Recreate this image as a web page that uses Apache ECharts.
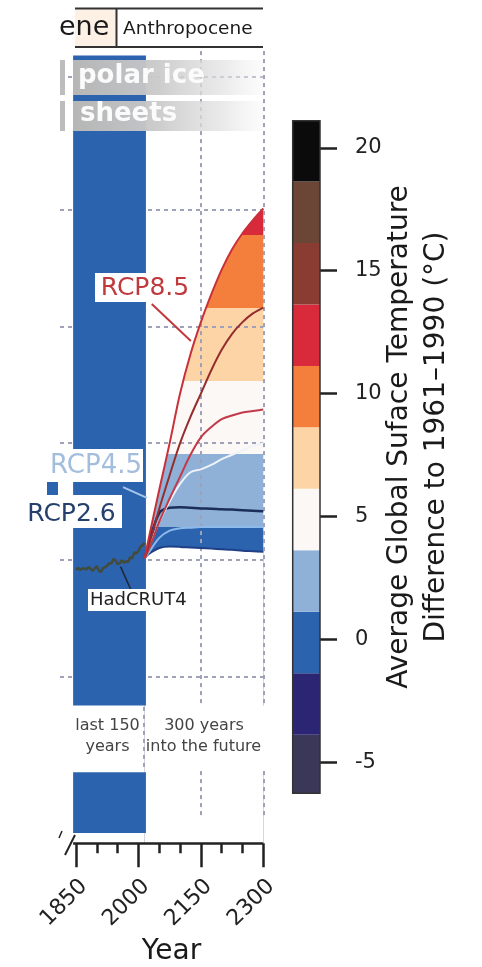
<!DOCTYPE html>
<html>
<head>
<meta charset="utf-8">
<script src="https://cdn.jsdelivr.net/npm/echarts@6/dist/echarts.min.js"></script>
<style>
  html, body { margin: 0; padding: 0; background: #ffffff; }
  #chart { width: 482px; height: 967px; }
</style>
</head>
<body>
<div id="chart"></div>
<script>
// Global mean surface temperature anomaly (°C, relative to 1961–1990)

// HadCRUT4 observations
const obsYears = [1850, 1855, 1860, 1865, 1870, 1875, 1880, 1885, 1890, 1895, 1900, 1905, 1910, 1915, 1920, 1925, 1930, 1935, 1940, 1945, 1950, 1955, 1960, 1965, 1970, 1975, 1980, 1985, 1990, 1995, 2000, 2005, 2010, 2015];
const obsTemp  = [-0.35, -0.28, -0.35, -0.30, -0.30, -0.33, -0.25, -0.32, -0.38, -0.30, -0.22, -0.38, -0.42, -0.28, -0.26, -0.20, -0.12, -0.13, 0.02, -0.02, -0.15, -0.12, -0.02, -0.10, -0.05, -0.08, 0.08, 0.05, 0.25, 0.22, 0.30, 0.45, 0.50, 0.58];

// Scenario projections
const futureYears = [2015, 2025, 2050, 2075, 2100, 2125, 2150, 2175, 2200, 2225, 2250, 2275, 2300];
const rcp85High = [0.05, 0.75, 2.40, 4.00, 5.70, 7.05, 8.15, 9.10, 9.95, 10.65, 11.20, 11.65, 12.05];
const rcp85Mid  = [0.05, 0.50, 1.75, 2.90, 4.00, 4.90, 5.70, 6.50, 7.20, 7.75, 8.15, 8.45, 8.65];
const rcp85Low  = [0.05, 0.35, 1.30, 2.10, 2.85, 3.60, 4.20, 4.55, 4.82, 4.95, 5.05, 5.10, 5.15];
const rcp45High = [0.05, 0.40, 1.30, 2.00, 2.60, 3.00, 3.10, 3.25, 3.45, 3.60, 3.75, 3.90, 4.00];
const rcp45Low  = [0.05, 0.25, 0.75, 1.00, 1.08, 1.10, 1.12, 1.12, 1.12, 1.12, 1.12, 1.12, 1.12];
const rcp26Mid  = [0.05, 0.55, 1.60, 1.78, 1.80, 1.78, 1.76, 1.75, 1.73, 1.72, 1.70, 1.68, 1.66];
const rcp26Low  = [0.05, 0.20, 0.40, 0.45, 0.44, 0.42, 0.40, 0.38, 0.36, 0.34, 0.31, 0.29, 0.27];

// Axis ticks and guides
const majorYears = [1850, 2000, 2150, 2300];
const minorYears = [1900, 1950, 2050, 2100, 2200, 2250];
const gridTemps = [-4, 0, 4, 8, 12];
const gridYears = [2150, 2300];

// Temperature colour scale: bin edges (°C) and the colour of each bin, coolest first
const binEdges = [-6.25, -3.87, -1.37, 1.13, 3.63, 6.13, 8.63, 11.13, 13.63, 16.13, 18.63, 21.1];
const binColours = ['#3b3758', '#2b2573', '#2b63ae', '#8fb1d7', '#fcf8f5', '#fcd4a5', '#f47f3d', '#d82a3b', '#8a3b32', '#6b4637', '#0c0b0b'];
const cbarTicks = [-5, 0, 5, 10, 15, 20];

// The "last 150 years" column, coloured with the present-day bin
const recentColumn = [[1843, 2018, -5.0, 17.3], [1843, 2018, -9.38, -7.29]];

const FONT = '"DejaVu Sans"';
const Y_MIN = -9.73, Y_MAX = 17.58;
const CB_MIN = binEdges[0], CB_MAX = binEdges[binEdges.length - 1];
const pair = (xs, ys) => xs.map((x, i) => [x, ys[i]]);
const SMOOTH = 0.35;

function curve(name, ys, color, width) {
  return {
    name, type: 'line', xAxisIndex: 0, yAxisIndex: 0,
    data: pair(futureYears, ys), smooth: SMOOTH, symbol: 'none', showSymbol: false,
    z: 4, silent: true, animation: false,
    lineStyle: { color, width }
  };
}

const gridStyle = { color: '#9ea1b8', width: 2, type: [4, 4] };

const series = [
  // envelope of all scenarios: filled down from the warmest bound, then cleared below the coolest bound
  {
    id: 'envelope', name: 'envelope', type: 'line', data: pair(futureYears, rcp85High),
    smooth: SMOOTH, symbol: 'none', showSymbol: false, z: 1, silent: true, animation: false,
    lineStyle: { opacity: 0 }, areaStyle: { origin: 'start', opacity: 1, color: binColours[4] }
  },
  {
    id: 'envelope-floor', name: 'envelope floor', type: 'line', data: pair(futureYears, rcp26Low),
    smooth: SMOOTH, symbol: 'none', showSymbol: false, z: 1, silent: true, animation: false,
    lineStyle: { opacity: 0 }, areaStyle: { origin: 'start', opacity: 1, color: '#ffffff' }
  },
  // guides and the recent-period column
  {
    name: 'guides', type: 'line', data: [], clip: false, silent: true, animation: false,
    markLine: {
      silent: true, symbol: ['none', 'none'], z: 2, animation: false,
      label: { show: false }, lineStyle: gridStyle,
      data: gridTemps.map(t => ({ yAxis: t }))
        .concat(gridYears.map(y => [{ coord: [y, 17.45] }, { coord: [y, -8.8] }]))
        .concat([[{ coord: [2012, -5.05] }, { coord: [2012, -7.25] }]])
    },
    markArea: {
      silent: true, z: 3, animation: false,
      itemStyle: { color: binColours[2] },
      data: recentColumn.map(r => [{ coord: [r[0], r[3]] }, { coord: [r[1], r[2]] }])
    }
  },
  curve('RCP2.6 lower', rcp26Low, '#1f3f86', 2),
  curve('RCP4.5 lower', rcp45Low, '#8dbaea', 2),
  curve('RCP2.6', rcp26Mid, '#1b2e5a', 2.5),
  curve('RCP4.5 upper', rcp45High, '#eef3fa', 2),
  curve('RCP8.5 lower', rcp85Low, '#c23a4a', 2),
  curve('RCP8.5', rcp85Mid, '#952c2e', 2),
  curve('RCP8.5 upper', rcp85High, '#c8303a', 2),
  {
    name: 'HadCRUT4', type: 'line', data: pair(obsYears, obsTemp), symbol: 'none', showSymbol: false,
    z: 4, silent: true, animation: false, lineStyle: { color: '#434b3b', width: 2.5 }
  },
  // leader lines and the time axis baseline
  {
    name: 'leaders', type: 'line', data: [], clip: false, silent: true, animation: false,
    markLine: {
      silent: true, symbol: ['none', 'none'], z: 5, animation: false, label: { show: false },
      data: [
        [{ coord: [2032, 8.77], lineStyle: { color: '#c0393d', width: 2, type: 'solid' } }, { coord: [2126, 7.5] }],
        [{ coord: [1963, 2.49], lineStyle: { color: '#a6c5ea', width: 2, type: 'solid' } }, { coord: [2020.5, 2.12] }],
        [{ coord: [1957, -0.24], lineStyle: { color: '#1e2a3a', width: 1.6, type: 'solid' } }, { coord: [1984, -1.1] }],
        [{ coord: [1843, Y_MIN], lineStyle: { color: '#222222', width: 2.5, type: 'solid' } }, { coord: [2300, Y_MIN] }]
      ]
    }
  },
  // colour bar
  {
    name: 'colour bar', type: 'custom', xAxisIndex: 2, yAxisIndex: 1, silent: true, animation: false,
    encode: { x: 0, y: [1, 2] },
    data: binColours.map((c, i) => [0, binEdges[i], binEdges[i + 1], i]),
    renderItem: (params, api) => {
      const lo = api.coord([0, api.value(1)]);
      const hi = api.coord([0, api.value(2)]);
      const w = api.size([1, 0])[0];
      return {
        type: 'rect',
        shape: { x: lo[0] - w / 2, y: hi[1], width: w, height: lo[1] - hi[1] },
        style: { fill: binColours[api.value(3)] }
      };
    }
  },
  {
    name: 'colour bar frame', type: 'custom', xAxisIndex: 2, yAxisIndex: 1, silent: true, animation: false,
    encode: { x: 0, y: [1, 2] }, z: 3,
    data: [[0, CB_MIN, CB_MAX]],
    renderItem: (params, api) => {
      const lo = api.coord([0, api.value(1)]);
      const hi = api.coord([0, api.value(2)]);
      const w = api.size([1, 0])[0];
      return {
        type: 'rect',
        shape: { x: lo[0] - w / 2, y: hi[1], width: w, height: lo[1] - hi[1] },
        style: { fill: 'none', stroke: '#333333', lineWidth: 1.5 }
      };
    }
  }
];

const txt = (text, x, y, size, fill, align, weight) => ({
  type: 'text', x, y, z: 102, silent: true,
  style: { text, fill, font: `${weight || 'normal'} ${size}px ${FONT}`, align: align || 'left', verticalAlign: 'middle' }
});
const box = (x, y, w, h, fill, z) => ({ type: 'rect', z: z || 101, silent: true, shape: { x, y, width: w, height: h }, style: { fill } });
const seg = (x1, y1, x2, y2, stroke, lw, dash, z) => ({ type: 'line', z: z || 101, silent: true, shape: { x1, y1, x2, y2 }, style: { stroke, lineWidth: lw, lineDash: dash || null } });

const iceFill = {
  type: 'linear', x: 0, y: 0, x2: 1, y2: 0,
  colorStops: [
    { offset: 0, color: 'rgba(182,182,182,1)' },
    { offset: 0.45, color: 'rgba(202,202,202,0.95)' },
    { offset: 0.8, color: 'rgba(226,226,226,0.7)' },
    { offset: 1, color: 'rgba(245,245,245,0.35)' }
  ]
};

const graphics = [
  // epoch header
  box(75, 9, 41, 37, '#fdf0e5', 100),
  seg(75, 8.5, 263, 8.5, '#333333', 2),
  seg(75, 47, 263, 47, '#333333', 2),
  seg(116.5, 8.5, 116.5, 47, '#333333', 2),
  txt('ene', 59, 27.5, 27, '#1a1a1a'),
  txt('Anthropocene', 123, 29.5, 18.5, '#1a1a1a'),
  // polar ice sheets banner
  seg(60, 77, 263, 77, '#9ea1b8', 2, [4, 4], 99),
  box(60, 60, 5, 35, '#bdbdbd', 100),
  box(60, 101, 5, 30, '#bdbdbd', 100),
  { type: 'rect', z: 100, silent: true, shape: { x: 73, y: 60, width: 190, height: 35 }, style: { fill: iceFill } },
  { type: 'rect', z: 100, silent: true, shape: { x: 73, y: 101, width: 190, height: 30 }, style: { fill: iceFill } },
  txt('polar ice', 78, 76, 26, '#fbfbfb', 'left', 'bold'),
  txt('sheets', 80, 114, 26, '#fbfbfb', 'left', 'bold'),
  // scenario labels
  box(95, 273, 100, 29, '#ffffff'),
  txt('RCP8.5', 145, 288.5, 25, '#c0393d', 'center'),
  box(47, 449, 96, 33, '#ffffff'),
  txt('RCP4.5', 96, 466, 26, '#a3bddd', 'center'),
  box(47, 482, 11, 13, binColours[2]),
  box(25, 495, 97, 33, '#ffffff'),
  txt('RCP2.6', 71.5, 514, 25, '#26406e', 'center'),
  box(88, 589, 100, 22, '#ffffff'),
  txt('HadCRUT4', 90, 600, 18, '#222222'),
  // period captions
  box(147, 706, 119, 65, '#ffffff'),
  txt('last 150', 107.5, 726, 16, '#444444', 'center'),
  txt('years', 107.5, 747, 16, '#444444', 'center'),
  txt('300 years', 204, 726, 16, '#444444', 'center'),
  txt('into the future', 203.5, 747, 16, '#444444', 'center'),
  // axis break and axis title
  seg(65, 855, 75, 835, '#222222', 2),
  seg(59, 838, 62, 831, '#222222', 1.5),
  txt('Year', 171.5, 952, 28, '#1a1a1a', 'center'),
  // colour bar title
  {
    type: 'text', x: 418, y: 437, rotation: Math.PI / 2, z: 102, silent: true,
    style: {
      text: 'Average Global Suface Temperature\nDifference to 1961\u20131990 (°C)',
      fill: '#1a1a1a', font: `28px ${FONT}`, align: 'center', verticalAlign: 'middle', lineHeight: 36.5
    }
  }
];

const plain = v => String(v);

const option = {
  animation: false,
  backgroundColor: '#ffffff',
  grid: [
    { left: 60, top: 47.3, width: 203.3, height: 796 },
    { left: 292.7, top: 120.7, width: 27.3, height: 672.6 }
  ],
  xAxis: [
    {
      type: 'value', gridIndex: 0, min: 1811.5, max: 2300, position: 'bottom',
      axisLine: { show: false, onZero: false }, splitLine: { show: false },
      axisTick: { show: true, customValues: majorYears, length: 24, lineStyle: { color: '#222222', width: 2.5 } },
      axisLabel: {
        show: true, customValues: majorYears, rotate: 45, margin: 32, verticalAlign: 'top', formatter: plain,
        fontFamily: 'DejaVu Sans', fontSize: 22, color: '#222222'
      }
    },
    {
      type: 'value', gridIndex: 0, min: 1811.5, max: 2300, position: 'bottom',
      axisLine: { show: false, onZero: false }, splitLine: { show: false },
      axisTick: { show: true, customValues: minorYears, length: 10, lineStyle: { color: '#222222', width: 2.5 } },
      axisLabel: { show: false }
    },
    { type: 'category', gridIndex: 1, data: ['bar'], show: false }
  ],
  yAxis: [
    { type: 'value', gridIndex: 0, min: Y_MIN, max: Y_MAX, show: false, axisLine: { onZero: false } },
    {
      type: 'value', gridIndex: 1, min: CB_MIN, max: CB_MAX, position: 'right',
      axisLine: { show: false, onZero: false }, splitLine: { show: false },
      axisTick: { show: true, customValues: cbarTicks, length: 17, lineStyle: { color: '#222222', width: 2.5 } },
      axisLabel: {
        show: true, customValues: cbarTicks, margin: 35, align: 'left', formatter: plain,
        fontFamily: 'DejaVu Sans', fontSize: 21, color: '#222222'
      }
    }
  ],
  series,
  graphic: { elements: graphics }
};

const chart = echarts.init(document.getElementById('chart'), null, { renderer: 'canvas' });
chart.setOption(option);

// Colour the envelope by temperature bin: a hard-stop vertical gradient placed on the plot's own y scale.
const yPix = v => chart.convertToPixel({ yAxisIndex: 0 }, v);
const topPx = yPix(Y_MAX), bottomPx = yPix(Y_MIN);
const off = v => Math.min(1, Math.max(0, (yPix(v) - topPx) / (bottomPx - topPx)));
const stops = [];
for (let i = binColours.length - 1; i >= 0; i--) {
  const hi = i === binColours.length - 1 ? Y_MAX : binEdges[i + 1];
  const lo = i === 0 ? Y_MIN : binEdges[i];
  stops.push({ offset: off(hi), color: binColours[i] }, { offset: off(lo), color: binColours[i] });
}
chart.setOption({
  series: [{
    id: 'envelope',
    areaStyle: { origin: 'start', opacity: 1, color: { type: 'linear', x: 0, y: topPx, x2: 0, y2: bottomPx, colorStops: stops, global: true } }
  }]
});
</script>
</body>
</html>
